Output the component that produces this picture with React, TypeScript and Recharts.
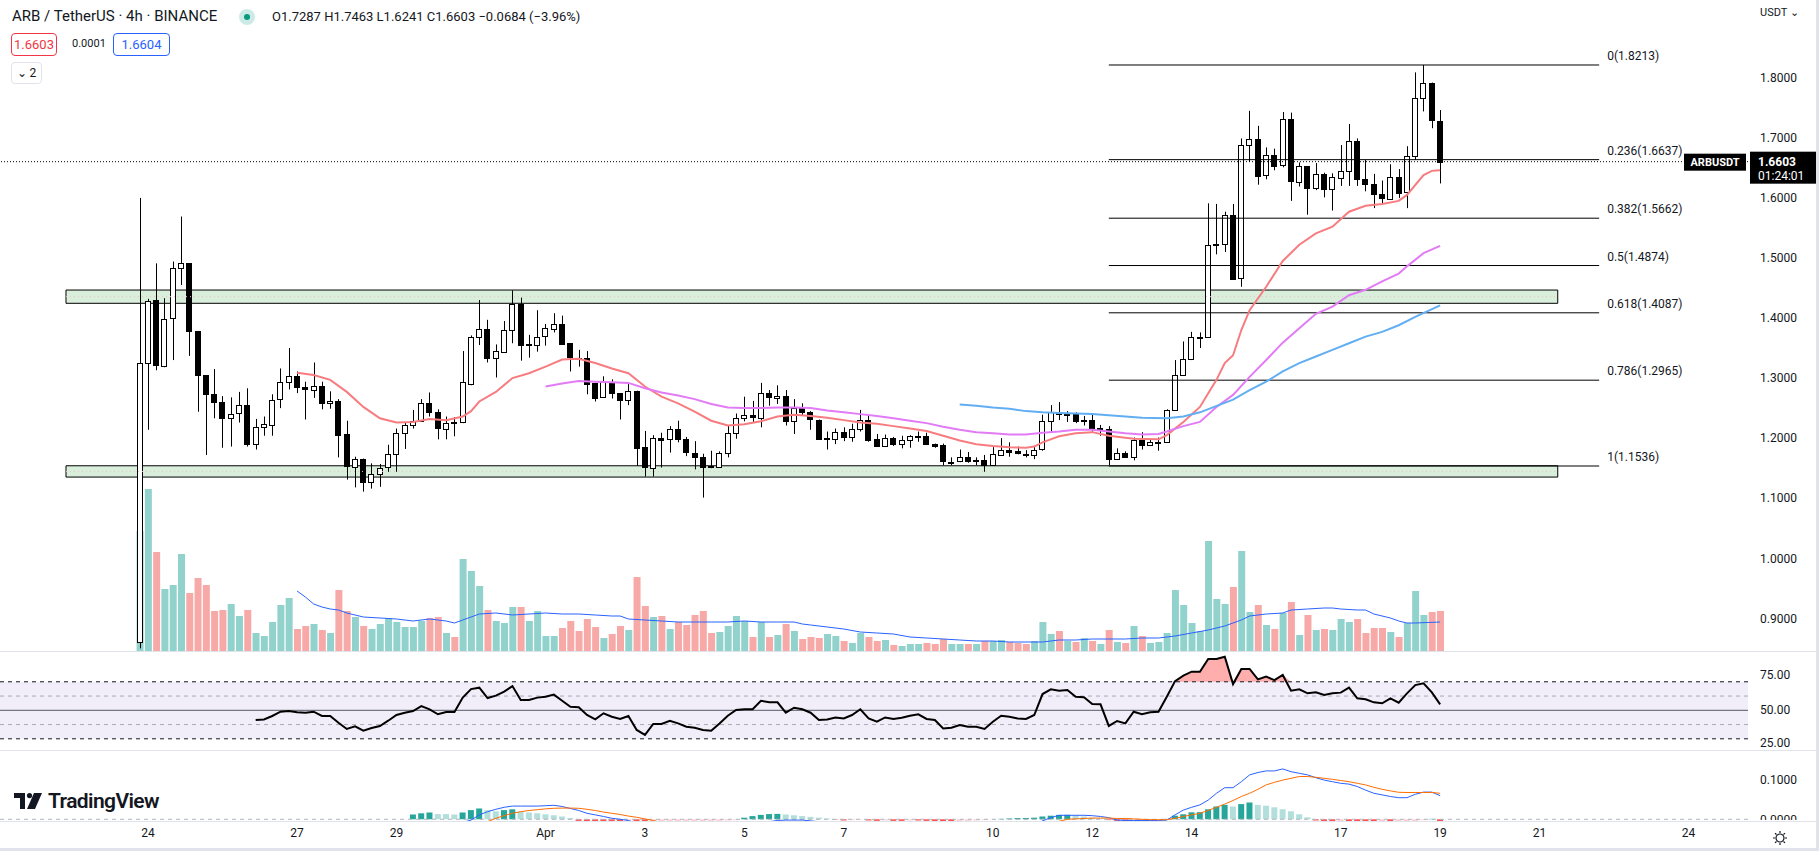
import React from 'react'
import { ComposedChart, Bar, Line, Area, XAxis, YAxis, ReferenceLine, ReferenceArea, Cell } from 'recharts'

const W = 1819
const PLOT_W = 1748
const AXIS_W = W - PLOT_W
const FONT = 'Roboto, "Liberation Sans", Arial, sans-serif'
const INK = '#131722'
const SEP = '#e0e3eb'

// bar index: 0 = 24 Mar 00:00, one step = one 4h candle
const X_DOMAIN = [-17.868, 193.17]
const firstBar = -1

const opens = [
  0.86,
  1.325, 1.430, 1.321, 1.399, 1.483, 1.491, 1.378, 1.305, 1.273, 1.260,
  1.234, 1.241, 1.255, 1.190, 1.218, 1.223, 1.264, 1.293, 1.303, 1.285,
  1.281, 1.287, 1.258, 1.262, 1.207, 1.153, 1.166, 1.128, 1.141, 1.151,
  1.173, 1.208, 1.222, 1.228, 1.258, 1.243, 1.216, 1.227, 1.226, 1.291,
  1.368, 1.382, 1.333, 1.344, 1.380, 1.424, 1.355, 1.355, 1.369, 1.382,
  1.390, 1.358, 1.334, 1.334, 1.292, 1.268, 1.293, 1.275, 1.264, 1.279,
  1.185, 1.151, 1.201, 1.198, 1.215, 1.198, 1.176, 1.169, 1.153, 1.152,
  1.175, 1.208, 1.233, 1.238, 1.234, 1.275, 1.268, 1.271, 1.229, 1.250,
  1.243, 1.231, 1.200, 1.199, 1.210, 1.202, 1.215, 1.230, 1.198, 1.187,
  1.200, 1.190, 1.197, 1.202, 1.204, 1.190, 1.188, 1.160, 1.161, 1.168,
  1.162, 1.163, 1.155, 1.173, 1.181, 1.178, 1.174, 1.173, 1.181, 1.228,
  1.243, 1.240, 1.241, 1.229, 1.231, 1.216, 1.216, 1.166, 1.176, 1.169,
  1.197, 1.188, 1.193, 1.194, 1.247, 1.305, 1.331, 1.368, 1.369, 1.522,
  1.523, 1.572, 1.467, 1.688, 1.698, 1.637, 1.672, 1.654, 1.731, 1.627,
  1.653, 1.616, 1.639, 1.614, 1.634, 1.645, 1.695, 1.631, 1.623, 1.606,
  1.599, 1.635, 1.609, 1.669, 1.766, 1.791, 1.7287,
]
const highs = [
  1.600,
  1.432, 1.491, 1.433, 1.494, 1.569, 1.491, 1.378, 1.305, 1.315, 1.270,
  1.268, 1.277, 1.283, 1.232, 1.236, 1.273, 1.316, 1.350, 1.311, 1.294,
  1.326, 1.294, 1.278, 1.265, 1.229, 1.169, 1.166, 1.158, 1.157, 1.189,
  1.216, 1.226, 1.247, 1.265, 1.276, 1.248, 1.236, 1.235, 1.345, 1.371,
  1.430, 1.397, 1.356, 1.395, 1.446, 1.434, 1.372, 1.413, 1.390, 1.408,
  1.404, 1.358, 1.347, 1.345, 1.292, 1.303, 1.298, 1.275, 1.290, 1.279,
  1.212, 1.205, 1.209, 1.220, 1.229, 1.202, 1.195, 1.174, 1.179, 1.178,
  1.221, 1.241, 1.269, 1.262, 1.292, 1.280, 1.288, 1.280, 1.265, 1.258,
  1.245, 1.231, 1.211, 1.216, 1.218, 1.224, 1.247, 1.237, 1.207, 1.206,
  1.202, 1.204, 1.205, 1.211, 1.209, 1.191, 1.191, 1.168, 1.181, 1.177,
  1.168, 1.172, 1.185, 1.200, 1.193, 1.186, 1.180, 1.187, 1.239, 1.255,
  1.260, 1.245, 1.243, 1.237, 1.241, 1.222, 1.220, 1.183, 1.178, 1.201,
  1.210, 1.198, 1.201, 1.248, 1.330, 1.361, 1.377, 1.376, 1.591, 1.590,
  1.577, 1.590, 1.699, 1.745, 1.720, 1.684, 1.682, 1.743, 1.742, 1.659,
  1.653, 1.658, 1.642, 1.641, 1.688, 1.723, 1.699, 1.663, 1.640, 1.629,
  1.656, 1.648, 1.686, 1.809, 1.8213, 1.792, 1.7463,
]
const lows = [
  0.85,
  1.214, 1.313, 1.318, 1.330, 1.455, 1.337, 1.244, 1.172, 1.233, 1.184,
  1.186, 1.226, 1.186, 1.181, 1.204, 1.204, 1.250, 1.281, 1.275, 1.231,
  1.267, 1.248, 1.249, 1.168, 1.131, 1.118, 1.111, 1.116, 1.119, 1.144,
  1.144, 1.182, 1.216, 1.227, 1.236, 1.198, 1.198, 1.203, 1.225, 1.288,
  1.355, 1.326, 1.301, 1.344, 1.358, 1.329, 1.334, 1.344, 1.354, 1.376,
  1.356, 1.311, 1.319, 1.273, 1.261, 1.267, 1.266, 1.231, 1.255, 1.154,
  1.136, 1.136, 1.151, 1.176, 1.193, 1.170, 1.148, 1.101, 1.150, 1.151,
  1.168, 1.199, 1.228, 1.227, 1.218, 1.254, 1.257, 1.221, 1.207, 1.237,
  1.214, 1.199, 1.181, 1.190, 1.195, 1.194, 1.211, 1.194, 1.186, 1.186,
  1.187, 1.183, 1.184, 1.194, 1.189, 1.184, 1.155, 1.155, 1.160, 1.159,
  1.155, 1.144, 1.155, 1.173, 1.169, 1.173, 1.168, 1.165, 1.179, 1.211,
  1.230, 1.227, 1.225, 1.221, 1.211, 1.204, 1.155, 1.164, 1.168, 1.163,
  1.181, 1.188, 1.179, 1.194, 1.247, 1.305, 1.330, 1.350, 1.368, 1.506,
  1.510, 1.464, 1.452, 1.660, 1.622, 1.631, 1.646, 1.651, 1.595, 1.619,
  1.572, 1.613, 1.601, 1.579, 1.620, 1.620, 1.620, 1.611, 1.583, 1.590,
  1.599, 1.600, 1.583, 1.663, 1.744, 1.716, 1.6241,
]
const closes = [
  1.325,
  1.429, 1.321, 1.399, 1.483, 1.491, 1.377, 1.304, 1.273, 1.259, 1.234,
  1.240, 1.255, 1.190, 1.218, 1.223, 1.264, 1.293, 1.303, 1.285, 1.281,
  1.287, 1.258, 1.262, 1.206, 1.153, 1.166, 1.128, 1.141, 1.151, 1.173,
  1.208, 1.222, 1.228, 1.258, 1.243, 1.216, 1.226, 1.226, 1.293, 1.369,
  1.382, 1.333, 1.345, 1.380, 1.424, 1.355, 1.356, 1.369, 1.383, 1.390,
  1.357, 1.334, 1.333, 1.291, 1.267, 1.293, 1.275, 1.264, 1.279, 1.184,
  1.151, 1.201, 1.198, 1.215, 1.198, 1.176, 1.169, 1.153, 1.151, 1.175,
  1.208, 1.233, 1.238, 1.234, 1.275, 1.268, 1.271, 1.229, 1.250, 1.243,
  1.231, 1.200, 1.201, 1.210, 1.202, 1.215, 1.230, 1.196, 1.187, 1.200,
  1.190, 1.197, 1.203, 1.204, 1.190, 1.187, 1.161, 1.161, 1.168, 1.162,
  1.163, 1.155, 1.173, 1.181, 1.178, 1.174, 1.173, 1.181, 1.228, 1.243,
  1.240, 1.241, 1.230, 1.231, 1.216, 1.217, 1.166, 1.176, 1.169, 1.197,
  1.188, 1.193, 1.194, 1.247, 1.305, 1.331, 1.368, 1.369, 1.522, 1.523,
  1.572, 1.466, 1.688, 1.698, 1.637, 1.671, 1.654, 1.731, 1.627, 1.653,
  1.616, 1.639, 1.614, 1.634, 1.645, 1.695, 1.631, 1.623, 1.606, 1.599,
  1.635, 1.609, 1.669, 1.766, 1.791, 1.7287, 1.6603,
]
const volumes = [
  120,
  162, 99, 62, 66, 97, 58, 73, 66, 40, 41,
  47, 35, 41, 18, 15, 29, 46, 53, 22, 25,
  27, 21, 18, 61, 40, 34, 25, 22, 27, 33,
  29, 24, 24, 30, 33, 34, 18, 14, 92, 80,
  65, 41, 30, 28, 44, 44, 30, 40, 15, 15,
  23, 30, 20, 32, 24, 13, 17, 25, 21, 74,
  45, 34, 35, 22, 29, 26, 36, 40, 18, 19,
  25, 35, 30, 14, 29, 14, 16, 27, 20, 12,
  14, 13, 17, 15, 10, 8, 18, 14, 10, 11,
  6, 5, 7, 7, 8, 7, 12, 7, 7, 7,
  7, 10, 10, 11, 9, 8, 7, 10, 29, 17,
  20, 10, 9, 13, 10, 7, 21, 9, 8, 25,
  15, 8, 9, 18, 61, 46, 28, 20, 110, 52,
  47, 64, 100, 39, 46, 26, 22, 38, 49, 16,
  36, 21, 22, 21, 32, 29, 32, 18, 23, 23,
  19, 14, 28, 60, 36, 39, 40,
]

// moving averages at [bar, value]
const ema20Pts = [
  [18, 1.309], [20, 1.305], [22, 1.297], [24, 1.277], [26, 1.252], [28, 1.233], [30, 1.226], [32, 1.227],
  [34, 1.232], [36, 1.230], [38, 1.236], [39, 1.245], [40, 1.261], [42, 1.277], [44, 1.300], [46, 1.308],
  [48, 1.319], [50, 1.331], [52, 1.332], [54, 1.325], [56, 1.316], [58, 1.308], [60, 1.286], [62, 1.269],
  [64, 1.258], [66, 1.244], [68, 1.229], [70, 1.221], [72, 1.223], [74, 1.228], [76, 1.236], [78, 1.239],
  [80, 1.237], [82, 1.234], [84, 1.230], [86, 1.226], [88, 1.224], [90, 1.220], [92, 1.216], [94, 1.212],
  [96, 1.204], [98, 1.196], [100, 1.190], [102, 1.187], [104, 1.185], [106, 1.184], [107, 1.186], [108, 1.193],
  [110, 1.203], [112, 1.208], [114, 1.210], [116, 1.204], [119, 1.199], [122, 1.198], [123, 1.205], [125, 1.227],
  [127, 1.252], [129, 1.297], [130, 1.325], [131, 1.338], [132, 1.380], [133, 1.413], [135, 1.452], [137, 1.495],
  [139, 1.522], [141, 1.541], [143, 1.552], [145, 1.577], [147, 1.587], [149, 1.590], [151, 1.595], [152, 1.605],
  [154, 1.638], [155, 1.645], [156, 1.646],
]
const ema50Pts = [
  [48, 1.286], [50, 1.291], [52, 1.295], [54, 1.294], [56, 1.293], [58, 1.292], [60, 1.283], [62, 1.276],
  [64, 1.271], [66, 1.265], [68, 1.257], [70, 1.251], [72, 1.250], [74, 1.250], [76, 1.251], [78, 1.251],
  [80, 1.250], [82, 1.246], [84, 1.243], [86, 1.240], [88, 1.237], [90, 1.233], [92, 1.229], [94, 1.225],
  [96, 1.219], [98, 1.214], [100, 1.210], [102, 1.208], [104, 1.206], [106, 1.206], [108, 1.209], [110, 1.211],
  [112, 1.214], [114, 1.214], [116, 1.211], [118, 1.208], [120, 1.206], [122, 1.207], [123, 1.211], [125, 1.220],
  [127, 1.227], [129, 1.252], [131, 1.272], [133, 1.302], [135, 1.330], [137, 1.359], [139, 1.383], [141, 1.407],
  [143, 1.419], [145, 1.438], [147, 1.447], [149, 1.461], [151, 1.474], [152, 1.486], [154, 1.508], [156, 1.520],
]
const ema100Pts = [
  [98, 1.256], [100, 1.254], [102, 1.251], [104, 1.249], [106, 1.245], [108, 1.243], [110, 1.242], [112, 1.241],
  [114, 1.240], [116, 1.238], [120, 1.234], [123, 1.233], [125, 1.236], [127, 1.243], [131, 1.264], [133, 1.280],
  [135, 1.294], [137, 1.311], [139, 1.325], [141, 1.336], [143, 1.347], [145, 1.358], [147, 1.369], [149, 1.377],
  [151, 1.388], [153, 1.402], [156, 1.421],
]
const volMaPts = [
  [18, 60], [19, 54], [20, 47], [21, 44], [22, 42], [23, 41], [24, 38], [26, 34], [28, 33], [30, 32],
  [32, 30], [34, 32], [36, 30], [37, 28], [38, 31], [39, 34], [40, 37], [42, 38], [44, 36], [46, 37],
  [48, 38], [50, 37], [52, 37], [54, 36], [56, 35], [57, 35], [58, 32], [60, 31], [62, 30], [64, 29],
  [66, 29], [68, 29], [70, 29], [72, 30], [74, 29], [76, 29], [78, 29], [79, 27], [80, 26], [82, 24],
  [84, 22], [86, 19], [88, 18], [90, 17], [92, 14], [94, 13], [96, 12], [98, 11], [100, 10], [102, 10],
  [104, 9], [106, 9], [108, 9], [110, 11], [112, 11], [114, 12], [116, 12], [118, 12], [120, 13], [122, 13],
  [124, 15], [126, 18], [128, 21], [130, 25], [132, 31], [133, 35], [135, 37], [137, 38], [138, 41], [140, 42],
  [142, 43], [143, 43], [144, 42], [146, 41], [147, 41], [148, 37], [150, 33], [151, 30], [152, 28], [153, 28],
  [156, 29],
]

const rsiStart = 13
const rsiValues = [
  43.2, 43.6, 46.0, 49.0, 49.5, 48.6, 48.3, 49.0, 46.0, 46.0,
  41.3, 36.9, 38.7, 35.7, 37.6, 39.0, 42.7, 46.7, 48.3, 49.5,
  53.0, 50.7, 47.2, 48.8, 48.8, 58.9, 64.9, 65.9, 58.6, 60.3,
  63.1, 67.0, 57.2, 57.2, 58.9, 59.5, 61.0, 56.7, 52.5, 52.1,
  46.7, 43.6, 47.9, 45.5, 43.9, 46.0, 36.2, 32.7, 40.4, 40.4,
  42.7, 40.8, 38.5, 37.8, 36.2, 35.7, 40.8, 46.2, 50.2, 50.7,
  50.7, 56.7, 55.6, 55.6, 48.3, 51.8, 50.7, 48.3, 43.2, 43.6,
  45.0, 44.3, 46.7, 50.7, 44.3, 42.0, 45.0, 43.9, 44.8, 46.2,
  47.2, 43.9, 43.2, 37.3, 37.8, 39.7, 38.5, 38.5, 36.9, 42.0,
  46.2, 45.5, 44.3, 43.9, 46.7, 61.4, 64.7, 63.8, 64.2, 59.5,
  59.1, 54.4, 54.2, 39.0, 42.5, 40.8, 49.0, 47.2, 48.6, 49.0,
  59.5, 70.5, 74.3, 77.1, 77.1, 86.0, 86.0, 87.6, 68.4, 79.0,
  79.0, 71.7, 73.6, 71.2, 74.8, 63.8, 64.7, 61.9, 62.6, 60.7,
  61.9, 62.4, 65.9, 58.4, 57.7, 55.6, 54.9, 58.4, 55.3, 61.9,
  67.7, 68.9, 62.6, 54.2,
]

const histStart = 32
const histValues = [
  0.012, 0.015, 0.017, 0.013, 0.013, 0.012, 0.017, 0.023, 0.027, 0.023,
  0.020, 0.023, 0.025, 0.019, 0.017, 0.015, 0.0125, 0.010, 0.007, 0.003,
  -0.004, -0.006, -0.008, -0.009, -0.010, -0.011, -0.010, -0.012, -0.014, -0.012,
  -0.011, -0.010, -0.009, -0.008, -0.007, -0.006, -0.005, -0.004, -0.003, -0.002,
  0.004, 0.008, 0.011, 0.013, 0.0135, 0.012, 0.010, 0.008, 0.006, 0.004,
  0.002, -0.001, -0.003, -0.002, -0.001, -0.003, -0.004, -0.003, -0.004, -0.004,
  -0.003, -0.003, -0.004, -0.0045, -0.005, -0.006, -0.005, -0.004, -0.003, -0.002,
  -0.001, 0.001, 0.002, 0.003, 0.0035, 0.004, 0.007, 0.009, 0.011, 0.0112,
  0.010, 0.007, 0.004, 0.002, -0.002, -0.004, -0.005, -0.004, -0.003, -0.002,
  -0.001, 0.001, 0.009, 0.0125, 0.0175, 0.0178, 0.025, 0.032, 0.036, 0.032,
  0.038, 0.042, 0.036, 0.034, 0.030, 0.025, 0.020, 0.0125, 0.005, -0.003,
  -0.005, -0.006, -0.005, -0.006, -0.007, -0.008, -0.009, -0.008, -0.009, -0.008,
  -0.007, -0.005, -0.002, 0.001, -0.008,
]
const macdStart = 37
const macdValues = [
  -0.025, -0.008, -0.002, 0.011, 0.019, 0.025, 0.030, 0.033, 0.033, 0.033,
  0.033, 0.034, 0.035, 0.032, 0.027, 0.022, 0.015, 0.011, 0.007, 0.0025,
  0.000, -0.003, -0.010, -0.018, -0.025, -0.028, -0.030, -0.031, -0.031, -0.030,
  -0.030, -0.029, -0.028, -0.025, -0.022, -0.018, -0.013, -0.009, -0.006, -0.003,
  -0.002, -0.002, -0.002, -0.004, -0.006, -0.009, -0.012, -0.014, -0.016, -0.016,
  -0.018, -0.020, -0.021, -0.022, -0.023, -0.023, -0.024, -0.025, -0.026, -0.028,
  -0.030, -0.031, -0.031, -0.031, -0.031, -0.030, -0.028, -0.026, -0.024, -0.022,
  -0.014, -0.004, 0.004, 0.010, 0.010, 0.010, 0.010, 0.009, 0.007, 0.004,
  -0.002, -0.003, -0.003, -0.003, -0.003, -0.003, -0.002, 0.011, 0.023, 0.030,
  0.036, 0.048, 0.065, 0.079, 0.079, 0.094, 0.111, 0.117, 0.121, 0.121,
  0.126, 0.119, 0.115, 0.111, 0.104, 0.098, 0.094, 0.090, 0.088, 0.082,
  0.073, 0.065, 0.061, 0.057, 0.054, 0.054, 0.0625, 0.068, 0.068, 0.059,
]
const signalStart = 40
const signalValues = [
  -0.012, -0.006, 0.0025, 0.009, 0.015, 0.019, 0.022, 0.024, 0.026, 0.0275,
  0.028, 0.028, 0.0275, 0.025, 0.022, 0.018, 0.015, 0.012, 0.008, 0.005,
  0.001, -0.003, -0.008, -0.012, -0.015, -0.018, -0.020, -0.022, -0.023, -0.024,
  -0.024, -0.023, -0.022, -0.021, -0.020, -0.019, -0.016, -0.014, -0.012, -0.010,
  -0.010, -0.010, -0.011, -0.011, -0.011, -0.012, -0.013, -0.015, -0.016, -0.018,
  -0.018, -0.019, -0.020, -0.021, -0.021, -0.022, -0.023, -0.024, -0.025, -0.027,
  -0.028, -0.029, -0.030, -0.030, -0.029, -0.028, -0.027, -0.024, -0.022, -0.012,
  -0.005, 0.000, 0.001, 0.002, 0.003, 0.003, 0.003, 0.002, 0.002, 0.001,
  0.000, -0.001, -0.001, -0.001, 0.0025, 0.007, 0.011, 0.015, 0.022, 0.030,
  0.038, 0.047, 0.057, 0.065, 0.075, 0.086, 0.0925, 0.098, 0.1025, 0.107,
  0.107, 0.105, 0.1025, 0.100, 0.097, 0.094, 0.090, 0.086, 0.080, 0.075,
  0.071, 0.0675, 0.067, 0.067, 0.067, 0.067, 0.065,
]

const fibLevels = [0, 0.236, 0.382, 0.5, 0.618, 0.786, 1]
const fibPrices = [1.8213, 1.6637, 1.5662, 1.4874, 1.4087, 1.2965, 1.1536]
const fibFrom = 116
const fibTo = 175.2
const zoneLows = [1.4245, 1.1352]
const zoneHighs = [1.4466, 1.1540]
const zoneFrom = -9.9
const zoneTo = 170.2

const priceTicks = [0.9, 1.0, 1.1, 1.2, 1.3, 1.4, 1.5, 1.6, 1.7, 1.8]
const rsiTicks = [25, 50, 75]
const macdTicks = [0, 0.1]
const dayTicks = [0, 18, 30, 48, 60, 72, 84, 102, 114, 126, 144, 156, 168, 186]
const dayLabels = ['24', '27', '29', 'Apr', '3', '5', '7', '10', '12', '14', '17', '19', '21', '24']

const lastPrice = closes[closes.length - 1]

const ptMap = (pts: number[][]) => new Map(pts.map(([i, v]) => [i, v]))
const e20 = ptMap(ema20Pts)
const e50 = ptMap(ema50Pts)
const e100 = ptMap(ema100Pts)
const vma = ptMap(volMaPts)
const at = (arr: number[], start: number, i: number) => (i >= start && i - start < arr.length ? arr[i - start] : null)

const rows = opens.map((o, k) => {
  const i = firstBar + k
  const c = closes[k]
  const rsi = at(rsiValues, rsiStart, i)
  const hist = at(histValues, histStart, i)
  const prevHist = at(histValues, histStart, i - 1)
  let histColor = '#26a69a'
  if (hist != null) {
    if (hist >= 0) histColor = prevHist == null || hist > prevHist ? '#26a69a' : '#b2dfdb'
    else histColor = prevHist != null && hist > prevHist ? '#ffcdd2' : '#ff5252'
  }
  return {
    i, o, h: highs[k], l: lows[k], c,
    range: [lows[k], highs[k]],
    up: c >= o,
    vol: volumes[k],
    vma: vma.get(i) ?? null,
    ema20: e20.get(i) ?? null,
    ema50: e50.get(i) ?? null,
    ema100: e100.get(i) ?? null,
    rsi,
    ob: rsi == null ? null : [70, Math.max(70, rsi)],
    hist,
    histColor,
    macd: at(macdValues, macdStart, i),
    signal: at(signalValues, signalStart, i),
  }
})

function Candle(props: any) {
  const { x, y, width, height, payload } = props
  if (!payload || !Number.isFinite(y) || !Number.isFinite(height)) return null
  const { o, h, l, c } = payload
  const k = height / (h - l)
  const yTop = y + (h - Math.max(o, c)) * k
  const yBot = y + (h - Math.min(o, c)) * k
  const cx = Math.round(x + width / 2) + 0.5
  const up = c >= o
  return (
    <g>
      <line x1={cx} x2={cx} y1={y} y2={y + height} stroke="#000" strokeWidth={1} />
      <rect
        x={Math.round(x) + 0.5}
        y={Math.round(yTop) + 0.5}
        width={Math.round(width) - 1}
        height={Math.max(Math.round(yBot - yTop), 1)}
        fill={up ? '#fff' : '#000'}
        stroke="#000"
        strokeWidth={1}
      />
    </g>
  )
}

const axisTick = { fontSize: 12, fill: INK, fontFamily: FONT }
const margin = { top: 0, right: 0, bottom: 0, left: 0 }

// right-axis tick kept inside its pane
const paneTick = (paneH: number, digits: number) => (p: any) => (
  <text
    x={p.x}
    y={Math.min(p.y, paneH - 8)}
    dominantBaseline="central"
    textAnchor="start"
    fontSize={12}
    fill={INK}
    fontFamily={FONT}
  >
    {Number(p.payload.value).toFixed(digits)}
  </text>
)

const fibLabel = (text: string) => (props: any) => {
  const vb = props.viewBox
  return (
    <text x={vb.x + vb.width + 8} y={vb.y - 5} fontSize={12} fill={INK} fontFamily={FONT}>
      {text}
    </text>
  )
}

const priceLabel = (props: any) => {
  const vb = props.viewBox
  const xr = vb.x + vb.width
  const y = vb.y
  return (
    <g fontFamily={FONT}>
      <rect x={xr - 64} y={y - 8} width={62} height={17} fill="#000" />
      <text x={xr - 33} y={y + 4} fontSize={11} fontWeight={700} fill="#fff" textAnchor="middle">ARBUSDT</text>
      <rect x={xr + 2} y={y - 10} width={AXIS_W - 2} height={32} fill="#000" />
      <text x={xr + 10} y={y + 4} fontSize={12} fontWeight={700} fill="#fff">{lastPrice.toFixed(4)}</text>
      <text x={xr + 10} y={y + 18} fontSize={12} fill="#fff">01:24:01</text>
    </g>
  )
}

function Logo() {
  return (
    <svg width={30} height={16} viewBox="0 0 30 16">
      <path d="M0 0 H11 V16 H6 V5 H0 Z" fill="#131722" />
      <circle cx={15.5} cy={2.6} r={2.6} fill="#131722" />
      <path d="M20 0 H28 L21 16 H13 Z" fill="#131722" />
    </svg>
  )
}

function Gear() {
  const rays = [0, 45, 90, 135, 180, 225, 270, 315]
  return (
    <svg width={16} height={16} viewBox="-8 -8 16 16">
      <circle r={4} fill="none" stroke={INK} strokeWidth={1.2} />
      {rays.map((a) => (
        <line
          key={a}
          x1={Math.cos((a * Math.PI) / 180) * 5}
          y1={Math.sin((a * Math.PI) / 180) * 5}
          x2={Math.cos((a * Math.PI) / 180) * 7}
          y2={Math.sin((a * Math.PI) / 180) * 7}
          stroke={INK}
          strokeWidth={1.2}
        />
      ))}
    </svg>
  )
}

const abs = (left: number, top: number, extra: React.CSSProperties = {}): React.CSSProperties => ({
  position: 'absolute', left, top, ...extra,
})

export default function App() {
  return (
    <div style={{ position: 'absolute', left: 0, top: 0, width: W, height: 851, background: '#fff', fontFamily: FONT, color: INK, overflow: 'hidden' }}>
      {/* volume layer */}
      <div style={abs(0, 0)}>
        <ComposedChart width={W} height={651} data={rows} margin={{ ...margin, right: AXIS_W }}>
          <XAxis type="number" dataKey="i" domain={X_DOMAIN} hide allowDataOverflow />
          <YAxis domain={[0, 651]} hide allowDataOverflow />
          <Bar dataKey="vol" barSize={7} isAnimationActive={false}>
            {rows.map((r, k) => (
              <Cell key={k} fill={r.up ? '#92d2cc' : '#f7a9a7'} />
            ))}
          </Bar>
          <Line dataKey="vma" stroke="#2962ff" strokeWidth={1} dot={false} connectNulls isAnimationActive={false} />
        </ComposedChart>
      </div>

      {/* price layer */}
      <div style={abs(0, 0)}>
        <ComposedChart width={W} height={651} data={rows} margin={margin}>
          <XAxis type="number" dataKey="i" domain={X_DOMAIN} hide allowDataOverflow />
          <YAxis
            orientation="right"
            width={AXIS_W}
            domain={[0.8456, 1.9295]}
            ticks={priceTicks}
            interval={0}
            allowDataOverflow
            axisLine={false}
            tickLine={false}
            tickMargin={6}
            tick={axisTick}
            tickFormatter={(v: number) => v.toFixed(4)}
          />
          {zoneLows.map((lo, k) => (
            <ReferenceArea key={'z' + k} x1={zoneFrom} x2={zoneTo} y1={lo} y2={zoneHighs[k]} fill="#d9efdc" fillOpacity={1} stroke="#000" strokeWidth={1} />
          ))}
          {zoneLows.map((lo, k) => (
            <ReferenceLine
              key={'zm' + k}
              segment={[{ x: zoneFrom, y: (lo + zoneHighs[k]) / 2 }, { x: zoneTo, y: (lo + zoneHighs[k]) / 2 }]}
              stroke="#e6c3c3"
              strokeDasharray="1 3"
            />
          ))}
          {fibPrices.map((p, k) => (
            <ReferenceLine
              key={'f' + k}
              segment={[{ x: fibFrom, y: p }, { x: fibTo, y: p }]}
              stroke="#000"
              strokeWidth={1}
              label={fibLabel(`${fibLevels[k]}(${p.toFixed(4)})`)}
            />
          ))}
          <ReferenceLine y={lastPrice} stroke="#000" strokeDasharray="1 2" label={priceLabel} />
          <Bar dataKey="range" barSize={6} shape={(p: any) => <Candle {...p} />} isAnimationActive={false} />
          <Line dataKey="ema20" stroke="#f77c80" strokeWidth={2} dot={false} connectNulls isAnimationActive={false} />
          <Line dataKey="ema50" stroke="#e27bf5" strokeWidth={2} dot={false} connectNulls isAnimationActive={false} />
          <Line dataKey="ema100" stroke="#62aef2" strokeWidth={2} dot={false} connectNulls isAnimationActive={false} />
        </ComposedChart>
      </div>

      {/* RSI pane */}
      <div style={abs(0, 651)}>
        <ComposedChart width={W} height={100} data={rows} margin={margin}>
          <XAxis type="number" dataKey="i" domain={X_DOMAIN} hide allowDataOverflow />
          <YAxis
            orientation="right"
            width={AXIS_W}
            domain={[21.44, 91.61]}
            ticks={rsiTicks}
            interval={0}
            allowDataOverflow
            axisLine={false}
            tickLine={false}
            tickMargin={6}
            tick={paneTick(100, 2)}
          />
          <ReferenceArea y1={30} y2={70} fill="#f2eef9" fillOpacity={1} stroke="none" />
          <ReferenceLine y={70} stroke="#131722" strokeDasharray="4 4" />
          <ReferenceLine y={60} stroke="#a9abb4" strokeDasharray="4 4" />
          <ReferenceLine y={50} stroke="#555a66" />
          <ReferenceLine y={40} stroke="#a9abb4" strokeDasharray="4 4" />
          <ReferenceLine y={30} stroke="#131722" strokeDasharray="4 4" />
          <Area dataKey="ob" stroke="none" fill="#ff6b6b" fillOpacity={0.55} isAnimationActive={false} />
          <Line dataKey="rsi" stroke="#000" strokeWidth={2} dot={false} isAnimationActive={false} />
        </ComposedChart>
      </div>

      {/* MACD pane + time axis */}
      <div style={abs(0, 751)}>
        <ComposedChart width={W} height={100} data={rows} margin={margin}>
          <XAxis
            type="number"
            dataKey="i"
            domain={X_DOMAIN}
            allowDataOverflow
            ticks={dayTicks}
            interval={0}
            height={29}
            axisLine={false}
            tickLine={false}
            tickSize={4}
            tickMargin={2}
            tick={axisTick}
            tickFormatter={(v: number) => dayLabels[dayTicks.indexOf(v)]}
          />
          <YAxis
            orientation="right"
            width={AXIS_W}
            domain={[-0.0068, 0.1708]}
            ticks={macdTicks}
            interval={0}
            allowDataOverflow
            axisLine={false}
            tickLine={false}
            tickMargin={6}
            tick={axisTick}
            tickFormatter={(v: number) => v.toFixed(4)}
          />
          <ReferenceLine y={0} stroke="#b2b5be" strokeDasharray="4 4" />
          <Bar dataKey="hist" barSize={6} isAnimationActive={false}>
            {rows.map((r, k) => (
              <Cell key={k} fill={r.histColor} />
            ))}
          </Bar>
          <Line dataKey="macd" stroke="#2962ff" strokeWidth={1} dot={false} isAnimationActive={false} />
          <Line dataKey="signal" stroke="#ff6d00" strokeWidth={1} dot={false} isAnimationActive={false} />
        </ComposedChart>
      </div>

      {/* cover the part of the MACD scale that falls into the time axis */}
      <div style={abs(PLOT_W, 820, { width: AXIS_W, height: 31, background: '#fff' })} />

      {/* pane separators and outer frame */}
      <div style={abs(0, 651, { width: W, height: 1, background: SEP })} />
      <div style={abs(0, 750, { width: W, height: 1, background: SEP })} />
      <div style={abs(0, 821, { width: W, height: 1, background: SEP })} />
      <div style={abs(W - 3, 0, { width: 3, height: 851, background: SEP })} />
      <div style={abs(0, 848, { width: W, height: 3, background: SEP })} />

      <div style={abs(1772, 830)}><Gear /></div>
      <div style={abs(1760, 6, { fontSize: 11, color: INK })}>USDT ⌄</div>

      {/* header */}
      <div style={abs(12, 7, { fontSize: 15, whiteSpace: 'nowrap' })}>ARB / TetherUS · 4h · BINANCE</div>
      <div style={abs(239, 9, { width: 16, height: 16, borderRadius: 8, background: '#cdebe6' })}>
        <div style={abs(5, 5, { width: 6, height: 6, borderRadius: 3, background: '#089981' })} />
      </div>
      <div style={abs(272, 9, { fontSize: 13, whiteSpace: 'nowrap' })}>
        O1.7287 H1.7463 L1.6241 C1.6603 −0.0684 (−3.96%)
      </div>
      <div style={abs(11, 33, { width: 44, height: 21, border: '1px solid #f23645', borderRadius: 4, color: '#f23645', fontSize: 13, lineHeight: '21px', textAlign: 'center' })}>1.6603</div>
      <div style={abs(72, 37, { fontSize: 11 })}>0.0001</div>
      <div style={abs(113, 33, { width: 55, height: 21, border: '1px solid #2962ff', borderRadius: 4, color: '#2962ff', fontSize: 13, lineHeight: '21px', textAlign: 'center' })}>1.6604</div>
      <div style={abs(11, 62, { width: 29, height: 20, border: '1px solid #e0e3eb', borderRadius: 4, fontSize: 12, lineHeight: '20px', textAlign: 'center' })}>⌄ 2</div>

      {/* watermark */}
      <div style={abs(14, 793, { display: 'flex', alignItems: 'center', gap: 4 })}>
        <Logo />
        <span style={{ fontSize: 21, fontWeight: 600, letterSpacing: -0.6, lineHeight: '16px' }}>TradingView</span>
      </div>
    </div>
  )
}
